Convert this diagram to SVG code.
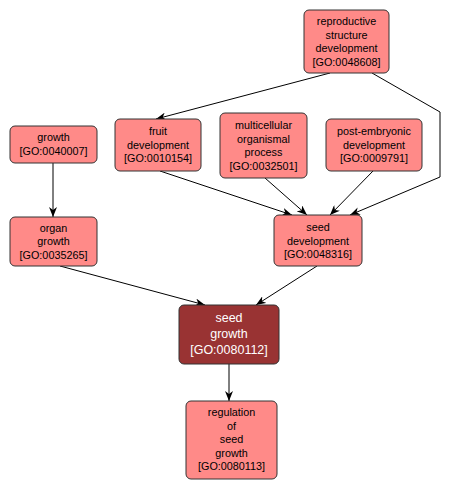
<svg xmlns="http://www.w3.org/2000/svg" width="451" height="492" viewBox="0 0 451 492">
<style>
.n rect{fill:#ff8a88;stroke:#333;stroke-width:1}
.d rect{fill:#993333;stroke:#333;stroke-width:1}
text{font-family:"Liberation Sans",Arial,sans-serif;font-size:10.8px;text-anchor:middle;fill:#000}
.d text{fill:#fff;font-size:12.5px}
.e path{fill:none;stroke:#000;stroke-width:1;marker-end:url(#a)}
</style>
<defs>
<marker id="a" markerWidth="10" markerHeight="8" refX="10" refY="4" orient="auto" markerUnits="userSpaceOnUse">
<path d="M0,0 L10,4 L0,8 L3,4 z" fill="#000"/>
</marker>
</defs>
<rect width="451" height="492" fill="#fff"/>
<g class="e">
<path d="M330,73 L156,119"/>
<path d="M372,73 L440,112 L440,177 L350,215"/>
<path d="M160,171 L292,215"/>
<path d="M265,178 L307,215"/>
<path d="M373,171 L330,215"/>
<path d="M53,163 L53,217"/>
<path d="M60,266 L205,305"/>
<path d="M317,266 L256,305"/>
<path d="M229,364 L229,401"/>
</g>
<g id="n1" class="n"><rect x="304" y="10" width="85" height="63" rx="5"/>
<text x="346.5" y="25">reproductive</text><text x="346.5" y="38.5">structure</text><text x="346.5" y="52">development</text><text x="346.5" y="65.5">[GO:0048608]</text></g>
<g id="n2" class="n"><rect x="115" y="119" width="86" height="52" rx="5"/>
<text x="158" y="135">fruit</text><text x="158" y="148.5">development</text><text x="158" y="162">[GO:0010154]</text></g>
<g id="n3" class="n"><rect x="220" y="113" width="87" height="65" rx="5"/>
<text x="263.5" y="129">multicellular</text><text x="263.5" y="142.5">organismal</text><text x="263.5" y="156">process</text><text x="263.5" y="169.5">[GO:0032501]</text></g>
<g id="n4" class="n"><rect x="326" y="119" width="96" height="52" rx="5"/>
<text x="374" y="135">post-embryonic</text><text x="374" y="148.5">development</text><text x="374" y="162">[GO:0009791]</text></g>
<g id="n5" class="n"><rect x="10" y="126" width="87" height="37" rx="5"/>
<text x="53.5" y="141">growth</text><text x="53.5" y="154.5">[GO:0040007]</text></g>
<g id="n6" class="n"><rect x="10" y="217" width="87" height="49" rx="5"/>
<text x="53.5" y="231.5">organ</text><text x="53.5" y="245">growth</text><text x="53.5" y="258.5">[GO:0035265]</text></g>
<g id="n7" class="n"><rect x="274" y="215" width="88" height="51" rx="5"/>
<text x="318" y="231">seed</text><text x="318" y="244.5">development</text><text x="318" y="258">[GO:0048316]</text></g>
<g id="n8" class="d"><rect x="179" y="305" width="100" height="59" rx="5"/>
<text x="229" y="322">seed</text><text x="229" y="338">growth</text><text x="229" y="354">[GO:0080112]</text></g>
<g id="n9" class="n"><rect x="186" y="401" width="91" height="78" rx="5"/>
<text x="231.5" y="416">regulation</text><text x="231.5" y="429.5">of</text><text x="231.5" y="443">seed</text><text x="231.5" y="456.5">growth</text><text x="231.5" y="470">[GO:0080113]</text></g>
</svg>
